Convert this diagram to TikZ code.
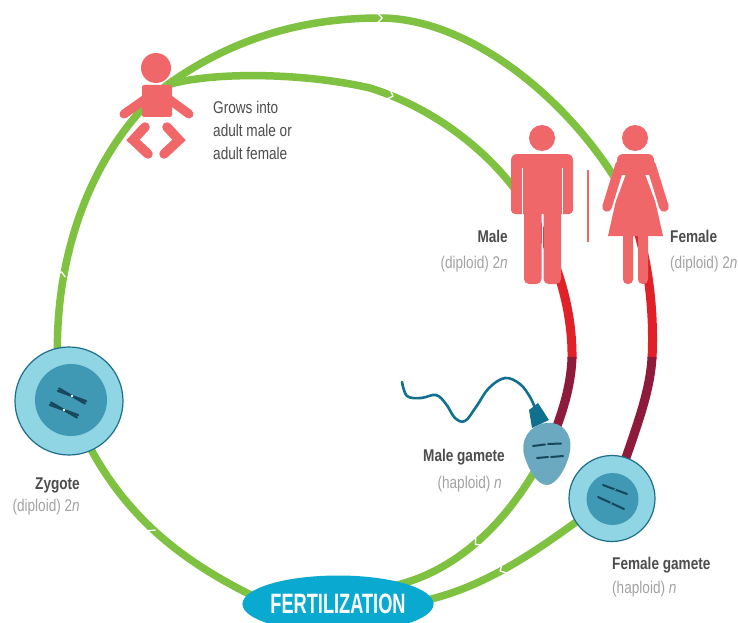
\documentclass[tikz,border=0pt]{standalone}
\usepackage{fontspec}
\setmainfont{Liberation Sans}
\newfontfamily\labelfont[FakeStretch=0.8]{Liberation Sans}
\newfontfamily\titlefont[FakeStretch=0.65]{Liberation Sans}
\usetikzlibrary{shapes.geometric}

\definecolor{lifegreen}{HTML}{7FC241}
\definecolor{figpink}{HTML}{F0676A}
\definecolor{linered}{HTML}{E02127}
\definecolor{linedark}{HTML}{8E1B3C}
\definecolor{cellouter}{HTML}{8FD5E3}
\definecolor{cellrim}{HTML}{1D6E8C}
\definecolor{cellinner}{HTML}{3F98B4}
\definecolor{chromo}{HTML}{17475B}
\definecolor{spermhead}{HTML}{6AA9BF}
\definecolor{spermtail}{HTML}{12708F}
\definecolor{fertblue}{HTML}{0AA9CF}
\definecolor{textdark}{HTML}{4D4D4D}
\definecolor{textlight}{HTML}{A3A3A3}

\pgfdeclarelayer{background}
\pgfsetlayers{background,main}

\tikzset{
  greenline/.style={draw=lifegreen, line width=7.5pt},
  redline/.style={draw=linered, line width=9pt},
  darkline/.style={draw=linedark, line width=9pt},
  figure/.style={fill=figpink, draw=none},
  cellbody/.style={circle, fill=cellouter, draw=cellrim, line width=1.2pt, inner sep=0pt},
  nucleus/.style={circle, fill=cellinner, draw=none, inner sep=0pt},
  chromatid/.style={draw=chromo, line width=2.2pt, line cap=round},
  caption/.style={font=\labelfont\fontsize{17}{23}\selectfont, text=textdark, inner sep=0pt},
  captionbold/.style={font=\labelfont\bfseries\fontsize{17}{23}\selectfont, text=textdark, inner sep=0pt},
  subcaption/.style={font=\labelfont\fontsize{17}{23}\selectfont, text=textlight, inner sep=0pt},
  flowtick/.pic={\draw[white, line width=1.3pt, line cap=round, line join=round]
      (-2.2pt,4.4pt) -- (2.2pt,0pt) -- (-2.2pt,-4.4pt);}
}

\begin{document}
\begin{tikzpicture}[x=1pt, y=-1pt]
\useasboundingbox (0,0) rectangle (738,623);

% ---------- baby ----------
\coordinate (baby) at (167,85);
\fill[figure] (156,68) circle (15);
\fill[figure, rounded corners=2pt] (142,85) rectangle (172,117);
\draw[figpink, line width=9pt, line cap=round] (144,100) -- (124,114);
\draw[figpink, line width=9pt, line cap=round] (170,100) -- (189,114);
\draw[figpink, line width=9.5pt, line cap=round, line join=miter] (145,127) -- (133,140) -- (148,154);
\draw[figpink, line width=9.5pt, line cap=round, line join=miter] (167,127) -- (179,140) -- (164,154);
\node[caption, anchor=north west, align=left] (grows) at (213,101)
  {Grows into\\adult male or\\adult female};

% ---------- male ----------
\coordinate (male) at (530,212);
\fill[figure] (542,138) circle (13);
\fill[figure, rounded corners=6pt] (511,154) rectangle (573,214);
\fill[figure, rounded corners=5pt] (524,200) rectangle (541.5,284);
\fill[figure, rounded corners=5pt] (543.5,200) rectangle (561,284);
\draw[white, line width=1.6pt] (522.6,168) -- (522.6,216);
\draw[white, line width=1.6pt] (562.4,168) -- (562.4,216);
\draw[white, line width=1.6pt] (542.5,215) -- (542.5,286);
\fill[figure, rounded corners=4pt] (511,200) rectangle (521.8,214);
\fill[figure, rounded corners=4pt] (563.2,200) rectangle (573,214);
\node[captionbold, anchor=base east] (malelabel) at (508,242) {Male};
\node[subcaption, anchor=base east] at (508,268) {(diploid) 2\textit{n}};

% divider between the two adults
\draw[figpink, line width=1.3pt] (588,170) -- (588,242);

% ---------- female ----------
\coordinate (female) at (622,190);
\fill[figure] (635,138) circle (13);
\fill[figure] (625,160) -- (646,160) -- (663,236) -- (608,236) -- cycle;
\draw[white, line width=12.5pt, line cap=round] (620,172) -- (607,207);
\draw[white, line width=12.5pt, line cap=round] (651,172) -- (664,207);
\draw[figpink, line width=9.5pt, line cap=round] (620,165) -- (607,207);
\draw[figpink, line width=9.5pt, line cap=round] (651,165) -- (664,207);
\fill[figure, rounded corners=6pt] (617,154) rectangle (654,172);
\fill[figure] (622,165) rectangle (649,175);
\fill[figure, rounded corners=4.5pt] (623,228) rectangle (633,284);
\fill[figure, rounded corners=4.5pt] (638,228) rectangle (648,284);
\node[captionbold, anchor=base west] (femalelabel) at (670,242) {Female};
\node[subcaption, anchor=base west] at (670,268) {(diploid) 2\textit{n}};

% ---------- zygote ----------
\node[cellbody, minimum size=108pt] (zygote) at (69,401) {};
\node[nucleus, minimum size=72pt] (zygnuc) at (71,400) {};
\draw[chromatid] (57.9,390.9) -- (86.1,401.1);
\draw[chromatid] (59,388.5) -- (85,403.5);
\draw[chromatid] (49.9,404.9) -- (78.1,415.1);
\draw[chromatid] (51,402.5) -- (77,417.5);
\fill[white] (72,396) circle (1.3) (64,410) circle (1.3);
\node[captionbold, anchor=base east] (zyglabel) at (80,489) {Zygote};
\node[subcaption, anchor=base east] at (80,511) {(diploid) 2\textit{n}};

% ---------- female gamete ----------
\node[cellbody, minimum size=86pt] (egg) at (612,498.5) {};
\node[nucleus, minimum size=52pt] (eggnuc) at (612.5,499) {};
\draw[chromatid, line width=2pt] (603,485) -- (627,494);
\draw[chromatid, line width=2pt] (598,497) -- (624,509);
\fill[cellinner] (615,489.5) circle (1.2) (611,503) circle (1.2);
\node[captionbold, anchor=base west] (egglabel) at (612,569) {Female gamete};
\node[subcaption, anchor=base west] at (612,593) {(haploid) \textit{n}};

% ---------- male gamete ----------
\draw[spermtail, line width=2.6pt, line cap=round] plot[smooth, tension=0.6] coordinates
  {(535,408) (530,397) (520,384) (505,378) (489,388) (476,407) (465,421) (455,418)
   (446,404) (436,395) (421,398) (407,396) (402,382)};
\fill[spermtail] (529,410) -- (538,403) -- (549,420) -- (532,428) -- cycle;
\fill[spermhead] (546,423) .. controls (562,421) and (573,434) .. (570,451)
  .. controls (567,468) and (556,485) .. (547,485)
  .. controls (537,485) and (529,470) .. (525,458)
  .. controls (519,441) and (529,425) .. (546,423) -- cycle;
\coordinate (sperm) at (546,454);
\draw[chromatid, line width=2pt] (533,446) -- (545,444.5);
\draw[chromatid, line width=2pt] (548,444) -- (561,443.5);
\draw[chromatid, line width=2pt] (537,458) -- (548,457);
\draw[chromatid, line width=2pt] (551,457) -- (563,456);
\node[captionbold, anchor=base east] (spermlabel) at (505,461) {Male gamete};
\node[subcaption, anchor=base east] at (502,488) {(haploid) \textit{n}};

% ---------- fertilization ----------
\node[ellipse, fill=fertblue, minimum width=190pt, minimum height=57pt, inner sep=0pt,
      font=\titlefont\bfseries\fontsize{28}{30}\selectfont, text=white] (fert) at (338,604) {FERTILIZATION};

% ---------- cycle lines (behind everything) ----------
\begin{pgfonlayer}{background}
  \fill[white] (0,0) rectangle (738,623);
  % fertilization -> zygote -> baby
  \draw[greenline] ([shift={(-83,-7)}]fert.center) .. controls (180,560) and (110,510) .. (zygote.center);
  \draw[greenline] (zygote.center) -- (58,370) .. controls (52,260) and (90,150) .. (baby);
  % baby -> female -> female gamete
  \draw[greenline] (baby) .. controls (230,40) and (300,18) .. (380,18)
                          .. controls (470,18) and (570,100) .. (female);
  \draw[redline] (female) .. controls (645,235) and (655,300) .. (652,359);
  \draw[darkline] (652,357) .. controls (650,395) and (635,430) .. (egg.center);
  % baby -> male -> male gamete
  \draw[greenline] (baby) .. controls (210,72) and (300,72) .. (370,88)
                          .. controls (440,110) and (500,160) .. (male);
  \draw[redline] (male) .. controls (550,245) and (573,300) .. (572,359);
  \draw[darkline] (572,357) .. controls (571,390) and (560,420) .. (sperm);
  % gametes -> fertilization
  \draw[greenline] (sperm) -- (540,462) .. controls (505,525) and (455,572) .. ([shift={(55,-18)}]fert.center);
  \draw[greenline] (egg.center) -- (600,505) .. controls (550,540) and (495,585) .. ([shift={(85,-3)}]fert.center);
\end{pgfonlayer}

% direction ticks on the green lines
\pic[rotate=0] at (380,18) {flowtick};
\pic[rotate=-20] at (391,95.4) {flowtick};
\pic[rotate=80] at (61.2,274) {flowtick};
\pic[rotate=140] at (150.6,532) {flowtick};
\pic[rotate=222] at (477,543) {flowtick};
\pic[rotate=209] at (502,570) {flowtick};
\end{tikzpicture}
\end{document}
